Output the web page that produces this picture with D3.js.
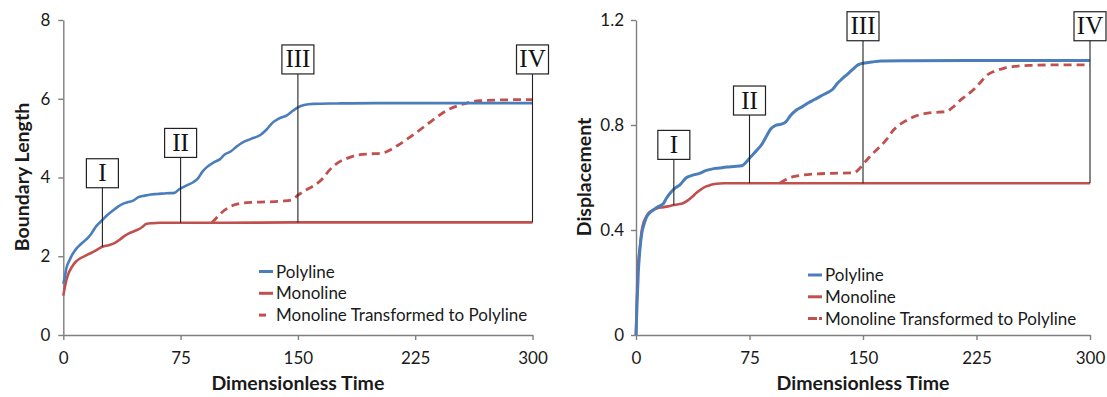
<!DOCTYPE html>
<html>
<head>
<meta charset="utf-8">
<script src="https://cdn.jsdelivr.net/npm/d3@7"></script>
<style>
  html, body { margin: 0; padding: 0; background: #fff; }
  svg { display: block; }
  text { font-family: Lato, "Open Sans", sans-serif; fill: #1a1a1a; }
  .mark-label { font-family: "Liberation Serif", "DejaVu Serif", serif; fill: #111; }
</style>
</head>
<body>
<svg id="chart" width="1107" height="397"></svg>
<script>
// Stage markers shared by both panels
const markerTimes = [25, 75, 150, 300];
const markerLabels = ["I", "II", "III", "IV"];

const seriesNames = ["Polyline", "Monoline", "Monoline Transformed to Polyline"];
const xTicks = [0, 75, 150, 225, 300];

// Panel 1: boundary length vs dimensionless time, [time, value]
const lengthTicks = [0, 2, 4, 6, 8];
const lengthPolyline = [[0,1.30],[1,1.48],[2,1.70],[4,1.90],[6,2.06],[8.5,2.20],[11,2.30],[13,2.37],[16,2.48],[18,2.58],[21,2.76],[25,2.92],[28,3.04],[32,3.17],[35,3.26],[38,3.33],[41,3.37],[45,3.42],[48,3.50],[52,3.54],[56,3.57],[60,3.58],[66,3.60],[71,3.61],[74,3.70],[79,3.80],[83,3.88],[86,3.97],[89,4.15],[92,4.27],[96,4.38],[100,4.46],[103,4.58],[107,4.66],[111,4.79],[115,4.90],[120,4.98],[126,5.08],[130,5.22],[134,5.40],[138,5.50],[143,5.58],[147,5.70],[150,5.78],[154,5.84],[160,5.87],[175,5.88],[200,5.89],[250,5.89],[300,5.89]];
const lengthMonoline = [[0,1.00],[1,1.22],[2,1.40],[3.5,1.58],[5.5,1.73],[8,1.86],[11,1.95],[14,2.01],[17,2.07],[20,2.13],[23,2.20],[25,2.24],[29,2.28],[33,2.34],[36,2.42],[39,2.51],[42,2.58],[45,2.63],[48,2.68],[51,2.76],[53,2.82],[57,2.84],[62,2.85],[100,2.85],[150,2.86],[200,2.86],[250,2.86],[300,2.86]];
const lengthTransformed = [[95,2.85],[98,2.98],[101,3.10],[105,3.22],[109,3.30],[113,3.34],[120,3.37],[130,3.38],[140,3.40],[146,3.43],[150,3.55],[156,3.70],[162,3.84],[166,3.98],[170,4.18],[175,4.36],[181,4.48],[188,4.57],[196,4.60],[204,4.62],[209,4.70],[214,4.82],[220,4.98],[226,5.15],[232,5.33],[239,5.54],[245,5.70],[252,5.82],[259,5.90],[266,5.95],[280,5.97],[300,5.98]];
const lengthMarkerBase = [2.24, 2.85, 2.86, 2.86];
const lengthMarkerTop = [3.74, 4.51, 6.63, 6.63];

// Panel 2: displacement vs dimensionless time, [time, value]
const dispTicks = [0, 0.4, 0.8, 1.2];
const dispPolyline = [[0,0],[0.7,0.12],[1.5,0.235],[2.5,0.32],[3.8,0.387],[5.5,0.425],[7,0.45],[9,0.465],[11.5,0.476],[15,0.49],[18,0.50],[20,0.52],[22.5,0.54],[25,0.556],[29,0.572],[33,0.598],[37,0.608],[42,0.616],[46,0.626],[50,0.632],[55,0.636],[60,0.640],[65,0.642],[70,0.645],[73,0.66],[76,0.68],[80,0.705],[83,0.725],[86,0.755],[89,0.785],[92,0.798],[96,0.803],[99,0.812],[102,0.835],[106,0.857],[110,0.870],[114,0.885],[118,0.897],[122,0.910],[126,0.922],[130,0.936],[133,0.958],[136,0.975],[140,0.995],[144,1.016],[147,1.030],[151,1.036],[156,1.040],[162,1.044],[180,1.045],[220,1.046],[260,1.046],[300,1.046]];
const dispMonoline = [[0,0],[0.5,0.12],[0.9,0.21],[1.7,0.29],[2.6,0.336],[3.6,0.39],[4.8,0.425],[6.5,0.448],[8.1,0.464],[11,0.476],[14,0.483],[18,0.487],[21,0.490],[25,0.495],[28,0.498],[31,0.502],[34,0.512],[37,0.526],[40,0.542],[43,0.555],[46,0.565],[49,0.571],[53,0.576],[58,0.578],[100,0.578],[200,0.578],[300,0.578]];
const dispTransformed = [[95,0.578],[99,0.592],[104,0.603],[110,0.609],[117,0.613],[130,0.616],[144,0.618],[147,0.630],[150,0.650],[154,0.676],[158,0.700],[162,0.722],[166,0.748],[170,0.780],[174,0.800],[178,0.815],[183,0.830],[188,0.840],[194,0.846],[200,0.849],[205,0.851],[209,0.866],[214,0.893],[219,0.915],[224,0.940],[228,0.965],[232,0.990],[237,1.005],[243,1.016],[250,1.023],[260,1.027],[280,1.029],[300,1.029]];
const dispMarkerBase = [0.495, 0.578, 0.578, 0.578];
const dispMarkerTop = [0.669, 0.838, 1.121, 1.121];

const BLUE = "#4a7ebb";
const RED = "#c0504d";
const AXIS = "#7f7f7f";

const svg = d3.select("#chart");

function drawPanel(cfg) {
  const x = d3.scaleLinear().domain([0, 300]).range([cfg.left, cfg.right]);
  const y = d3.scaleLinear().domain([0, cfg.yMax]).range([335, 20]);
  const g = svg.append("g");

  // axes
  const yAxis = d3.axisLeft(y).tickValues(cfg.yTicks).tickSize(5).tickSizeOuter(0)
    .tickPadding(cfg.yPad).tickFormat(cfg.yFormat);
  const xAxis = d3.axisBottom(x).tickValues(xTicks).tickSize(5).tickSizeOuter(0).tickPadding(12);
  const ya = g.append("g").attr("transform", `translate(${cfg.left},0)`).call(yAxis);
  const xa = g.append("g").attr("transform", "translate(0,335)").call(xAxis);
  [ya, xa].forEach(a => {
    a.select(".domain").attr("stroke", AXIS).attr("stroke-width", 1.4);
    a.selectAll(".tick line").attr("stroke", AXIS).attr("stroke-width", 1.4);
    a.selectAll(".tick text").attr("font-family", "Lato, sans-serif").attr("font-size", 17).attr("fill", "#1a1a1a");
  });

  // axis titles
  g.append("text")
    .attr("transform", `translate(${cfg.titleX},177) rotate(-90)`)
    .attr("text-anchor", "middle").attr("font-weight", "bold").attr("font-size", 19.5)
    .text(cfg.yTitle);
  g.append("text")
    .attr("x", (cfg.left + cfg.right) / 2).attr("y", 390)
    .attr("text-anchor", "middle").attr("font-weight", "bold").attr("font-size", 19.5)
    .text("Dimensionless Time");

  // stage markers: stem from monoline curve up to a labelled box
  const markers = markerTimes.map((t, i) => ({ t, label: markerLabels[i], base: cfg.markerBase[i], top: cfg.markerTop[i] }));
  const mg = g.append("g");
  mg.selectAll("line").data(markers).join("line")
    .attr("x1", d => x(d.t)).attr("x2", d => x(d.t))
    .attr("y1", d => y(d.base)).attr("y2", d => y(d.top))
    .attr("stroke", "#222").attr("stroke-width", 1.1);

  // curves
  const line = d3.line().x(d => x(d[0])).y(d => y(d[1])).curve(d3.curveMonotoneX);
  g.append("path").datum(cfg.monoline).attr("d", line)
    .attr("fill", "none").attr("stroke", RED).attr("stroke-width", 2.6);
  g.append("path").datum(cfg.transformed).attr("d", line)
    .attr("fill", "none").attr("stroke", RED).attr("stroke-width", 2.8)
    .attr("stroke-dasharray", "8,5");
  g.append("path").datum(cfg.polyline).attr("d", line)
    .attr("fill", "none").attr("stroke", BLUE).attr("stroke-width", cfg.blueWidth);

  // marker stems drawn above the curves, then boxes
  mg.raise();
  const boxes = mg.selectAll("g.box").data(markers).join("g").attr("class", "box")
    .attr("transform", d => `translate(${x(d.t)},${y(d.top)})`);
  boxes.append("rect").attr("x", -16).attr("y", -29).attr("width", 32).attr("height", 29)
    .attr("fill", "#fff").attr("stroke", "#222").attr("stroke-width", 1.2);
  boxes.append("text").attr("class", "mark-label").attr("x", 0).attr("y", -6.5)
    .attr("text-anchor", "middle").attr("font-size", 25).text(d => d.label);

  // legend
  const lg = g.append("g").attr("transform", `translate(${cfg.legendX},${cfg.legendY})`);
  const colors = [BLUE, RED, RED];
  seriesNames.forEach((name, i) => {
    const row = lg.append("g").attr("transform", `translate(0,${i * 21.8})`);
    const s = row.append("line").attr("x1", 0).attr("x2", 14).attr("y1", 0).attr("y2", 0)
      .attr("stroke", colors[i]).attr("stroke-width", 3);
    if (i === 2) s.attr("stroke-dasharray", cfg.legendDash);
    row.append("text").attr("x", 17).attr("y", 6).attr("font-size", 17).text(name);
  });
}

drawPanel({
  left: 63.3, right: 532.5, yMax: 8, yTicks: lengthTicks, yFormat: d3.format("d"), yPad: 8,
  titleX: 29, yTitle: "Boundary Length",
  polyline: lengthPolyline, monoline: lengthMonoline, transformed: lengthTransformed,
  markerBase: lengthMarkerBase, markerTop: lengthMarkerTop, blueWidth: 2.6,
  legendX: 259, legendY: 271.5, legendDash: "7,20"
});

drawPanel({
  left: 636, right: 1090, yMax: 1.2, yTicks: dispTicks, yFormat: d3.format(".1~f"), yPad: 7,
  titleX: 591, yTitle: "Displacement",
  polyline: dispPolyline, monoline: dispMonoline, transformed: dispTransformed,
  markerBase: dispMarkerBase, markerTop: dispMarkerTop, blueWidth: 3,
  legendX: 808, legendY: 275, legendDash: "9,2,3,20"
});
</script>
</body>
</html>
